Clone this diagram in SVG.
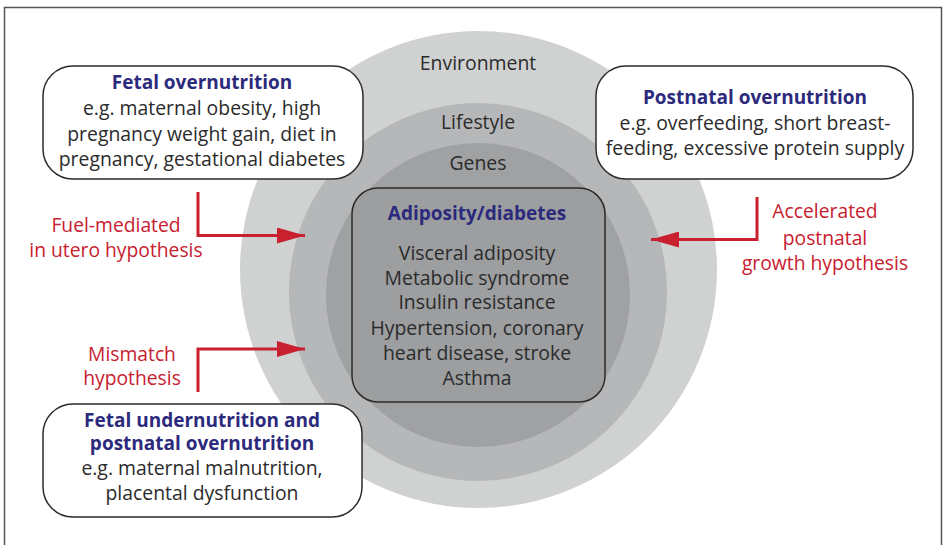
<svg xmlns="http://www.w3.org/2000/svg" width="943" height="545" viewBox="0 0 943 545">
<defs>
<style>
text{font-family:"Open Sans","Noto Sans","Liberation Sans",sans-serif;text-anchor:middle}
.t{font-size:19.4px;fill:#2b2b2b}
.h{font-size:19px;font-weight:bold;fill:#2c2a7c}
.r{font-size:19.3px;fill:#c8202f}
.box{fill:#fff;stroke:#2b2b2b;stroke-width:1.5}
.arr{fill:none;stroke:#c8202f;stroke-width:3}
</style>
<marker id="ah" viewBox="0 0 28 16" refX="28" refY="8" markerWidth="28" markerHeight="16" markerUnits="userSpaceOnUse" orient="auto">
<path d="M0,0 L28,8 L0,16 Z" fill="#c8202f"/>
</marker>
</defs>
<rect width="943" height="545" fill="#fff"/>
<path d="M4.5,548 V7.5 H941.5 V548" fill="none" stroke="#555" stroke-width="1.5"/>
<g id="environment">
<circle cx="478.5" cy="269.5" r="238.5" fill="#d0d2d2"/>
<text class="t" x="478" y="70">Environment</text>
</g>
<g id="lifestyle">
<circle cx="478" cy="292" r="189" fill="#b6b7b9"/>
<text class="t" x="478" y="129">Lifestyle</text>
</g>
<g id="genes">
<circle cx="478" cy="295" r="152" fill="#9fa1a3"/>
<text class="t" x="478" y="170">Genes</text>
</g>
<g id="adiposity">
<rect x="352" y="188" width="253" height="214" rx="26" fill="#9c9ea0" stroke="#2b2b2b" stroke-width="1.5"/>
<text class="h" x="477" y="220">Adiposity/diabetes</text>
<text class="t" x="477" y="260">Visceral adiposity</text>
<text class="t" x="477" y="285">Metabolic syndrome</text>
<text class="t" x="477" y="309">Insulin resistance</text>
<text class="t" x="477" y="335">Hypertension, coronary</text>
<text class="t" x="477" y="360">heart disease, stroke</text>
<text class="t" x="477" y="385">Asthma</text>
</g>
<g id="fetal-overnutrition">
<rect class="box" x="43" y="66" width="320" height="113" rx="30"/>
<text class="h" x="202" y="89">Fetal overnutrition</text>
<text class="t" x="202" y="115">e.g. maternal obesity, high</text>
<text class="t" x="202" y="141">pregnancy weight gain, diet in</text>
<text class="t" x="202" y="166">pregnancy, gestational diabetes</text>
</g>
<g id="postnatal-overnutrition">
<rect class="box" x="596" y="66" width="317" height="113" rx="30"/>
<text class="h" x="755" y="104">Postnatal overnutrition</text>
<text class="t" x="755" y="130">e.g. overfeeding, short breast-</text>
<text class="t" x="755" y="155">feeding, excessive protein supply</text>
</g>
<g id="fetal-undernutrition">
<rect class="box" x="43" y="404" width="319" height="113" rx="30"/>
<text class="h" x="202" y="427">Fetal undernutrition and</text>
<text class="h" x="202" y="450">postnatal overnutrition</text>
<text class="t" x="202" y="475">e.g. maternal malnutrition,</text>
<text class="t" x="202" y="500">placental dysfunction</text>
</g>
<g id="connectors">
<path class="arr" d="M198,192 V235.5 H305" marker-end="url(#ah)"/>
<path class="arr" d="M198,392 V349 H305" marker-end="url(#ah)"/>
<path class="arr" d="M757,197 V239.5 H651" marker-end="url(#ah)"/>
<text class="r" x="116" y="232">Fuel-mediated</text>
<text class="r" x="116" y="257">in utero hypothesis</text>
<text class="r" x="132" y="361">Mismatch</text>
<text class="r" x="132" y="385">hypothesis</text>
<text class="r" x="825" y="218">Accelerated</text>
<text class="r" x="825" y="245">postnatal</text>
<text class="r" x="825" y="270">growth hypothesis</text>
</g>
</svg>
